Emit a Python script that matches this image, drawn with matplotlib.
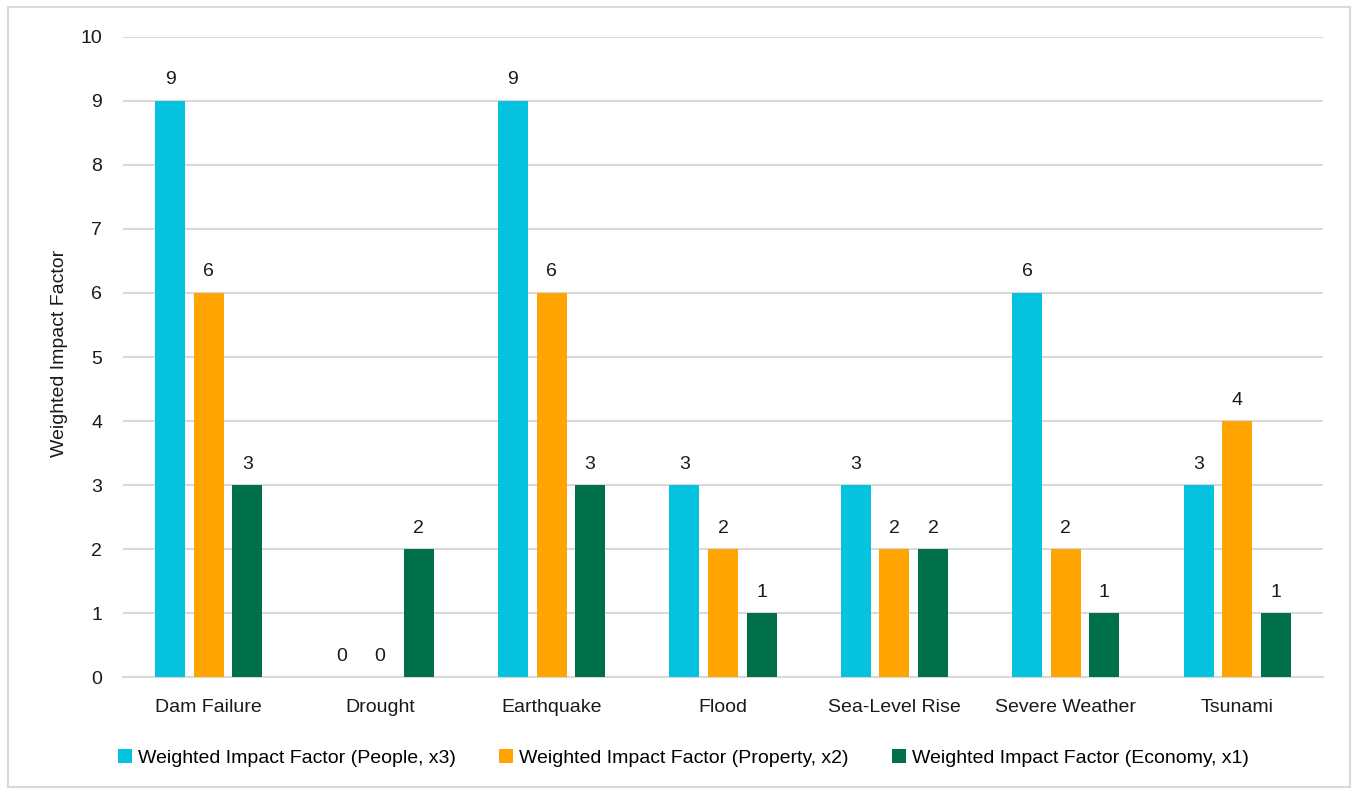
import matplotlib.pyplot as plt
import matplotlib.patches as mpatches
import numpy as np

# hazards and their weighted impact factors
hazards = ['Dam Failure', 'Drought', 'Earthquake', 'Flood', 'Sea-Level Rise',
           'Severe Weather', 'Tsunami']
people = [9, 0, 9, 3, 3, 6, 3]
property_ = [6, 0, 6, 2, 2, 2, 4]
economy = [3, 2, 3, 1, 2, 1, 1]
series_names = ['Weighted Impact Factor (People, x3)',
                'Weighted Impact Factor (Property, x2)',
                'Weighted Impact Factor (Economy, x1)']
colors = ['#05C3DE', '#FFA400', '#00704A']

plt.rcParams['font.family'] = ['Liberation Sans', 'DejaVu Sans']
fs = 14

fig = plt.figure(figsize=(13.54, 7.9), dpi=100)
ax = fig.add_axes([0.0908, 0.143, 0.8863, 0.8102])

x = np.arange(len(hazards))
w = 0.175
off = 0.225
for i, (vals, name, c) in enumerate(zip([people, property_, economy], series_names, colors)):
    pos = x + (i - 1) * off
    ax.bar(pos, vals, width=w, color=c, label=name, zorder=3)
    for p, v in zip(pos, vals):
        ax.annotate(str(v), (p, v), xytext=(0, 9), textcoords='offset points',
                    ha='center', va='bottom', fontsize=fs, color='#1a1a1a')

ax.set_xlim(-0.5, len(hazards) - 0.5)
ax.set_ylim(0, 10)
ax.set_yticks(range(0, 11))
ax.set_xticks(x)
ax.set_xticklabels(hazards)
ax.tick_params(axis='both', length=0, labelsize=fs, colors='#1a1a1a')
ax.tick_params(axis='x', pad=16)
ax.tick_params(axis='y', pad=15)
ax.grid(axis='y', color='#d9d9d9', linewidth=1.5, zorder=0)
for s in ['top', 'right', 'left']:
    ax.spines[s].set_visible(False)
ax.spines['bottom'].set_color('#d9d9d9')
ax.spines['bottom'].set_linewidth(1.5)
ax.set_ylabel('Weighted Impact Factor', fontsize=fs, color='#1a1a1a')
ax.yaxis.set_label_coords(-0.0455, 0.505)

ax.legend(loc='upper center', bbox_to_anchor=(0.467, -0.085), ncol=3, frameon=False,
          fontsize=fs, handlelength=0.7, handleheight=0.7, handletextpad=0.3,
          columnspacing=2.25)

fig.patches.append(mpatches.Rectangle((8 / 1354, 3 / 790), 1342 / 1354, 780 / 790,
                                      transform=fig.transFigure, fill=False,
                                      edgecolor='#d9d9d9', linewidth=1.5))

fig.savefig('out.png', dpi=100)
